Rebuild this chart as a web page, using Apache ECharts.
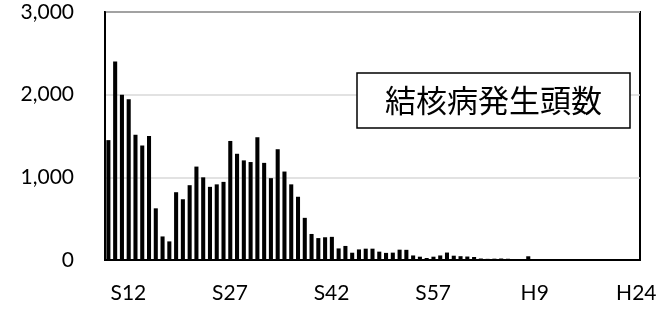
<!DOCTYPE html>
<html>
<head>
<meta charset="utf-8">
<script src="https://cdn.jsdelivr.net/npm/echarts@6/dist/echarts.min.js"></script>
<style>
	html, body { margin: 0; padding: 0; background: #fff; }
	#main { width: 663px; height: 312px; }
</style>
</head>
<body>
<div id="main"></div>
<script>
	// 年度 (S12 = 1937 ... H27 = 2015)
	var years = [
		'S12','S13','S14','S15','S16','S17','S18','S19','S20','S21',
		'S22','S23','S24','S25','S26','S27','S28','S29','S30','S31',
		'S32','S33','S34','S35','S36','S37','S38','S39','S40','S41',
		'S42','S43','S44','S45','S46','S47','S48','S49','S50','S51',
		'S52','S53','S54','S55','S56','S57','S58','S59','S60','S61',
		'S62','S63','H1','H2','H3','H4','H5','H6','H7','H8',
		'H9','H10','H11','H12','H13','H14','H15','H16','H17','H18',
		'H19','H20','H21','H22','H23','H24','H25','H26','H27'
	];
	// 結核病発生頭数
	var cases = [
		1450, 2400, 2000, 1945, 1515, 1385, 1500, 625, 285, 225,
		820, 735, 905, 1130, 1000, 885, 915, 945, 1440, 1285,
		1205, 1185, 1485, 1175, 990, 1340, 1070, 915, 765, 510,
		315, 265, 275, 280, 140, 170, 88, 128, 137, 137,
		101, 86, 89, 125, 123, 55, 40, 24, 40, 55,
		90, 52, 46, 42, 36, 18, 14, 16, 18, 15,
		12, 12, 45, 10, 10, 10, 10, 2, 10, 10,
		2, 2, 8, 0, 0, 0, 0, 8, 0
	];
	var yTicks = { min: 0, max: 3000, step: 1000 };
	var seriesName = '結核病発生頭数';

	var chart = echarts.init(document.getElementById('main'));
	var option = {
		animation: false,
		title: {
			text: seriesName,
			left: 357,
			top: 73,
			padding: [12, 28],
			borderColor: '#000',
			borderWidth: 1.5,
			backgroundColor: '#fff',
			textStyle: {
				fontFamily: 'Noto Sans CJK JP',
				fontSize: 31,
				lineHeight: 31,
				fontWeight: 'normal',
				color: '#000'
			}
		},
		grid: {
			left: 105,
			right: 23,
			top: 12,
			bottom: 52,
			containLabel: false,
			outerBoundsMode: 'none',
			show: true,
			borderColor: '#000',
			borderWidth: 2
		},
		xAxis: {
			type: 'category',
			data: years,
			axisLine: { show: true, lineStyle: { color: '#000', width: 2 } },
			axisTick: { show: false },
			axisLabel: {
				interval: 14,
				margin: 23,
				fontFamily: 'Lato',
				fontSize: 21,
				color: '#000',
				padding: [0, 0, 0, 40]
			}
		},
		yAxis: {
			type: 'value',
			min: yTicks.min,
			max: yTicks.max,
			interval: yTicks.step,
			axisLine: { show: true, lineStyle: { color: '#000', width: 2 } },
			axisTick: { show: false },
			splitLine: { lineStyle: { color: '#d9d9d9', width: 1.5 } },
			axisLabel: {
				margin: 31,
				fontFamily: 'Lato',
				fontSize: 21,
				color: '#000',
				formatter: function (v) { return v.toLocaleString('en-US'); }
			}
		},
		series: [{
			name: seriesName,
			type: 'bar',
			data: cases,
			barWidth: '60%',
			itemStyle: { color: '#000' }
		}]
	};
	chart.setOption(option);
</script>
</body>
</html>
